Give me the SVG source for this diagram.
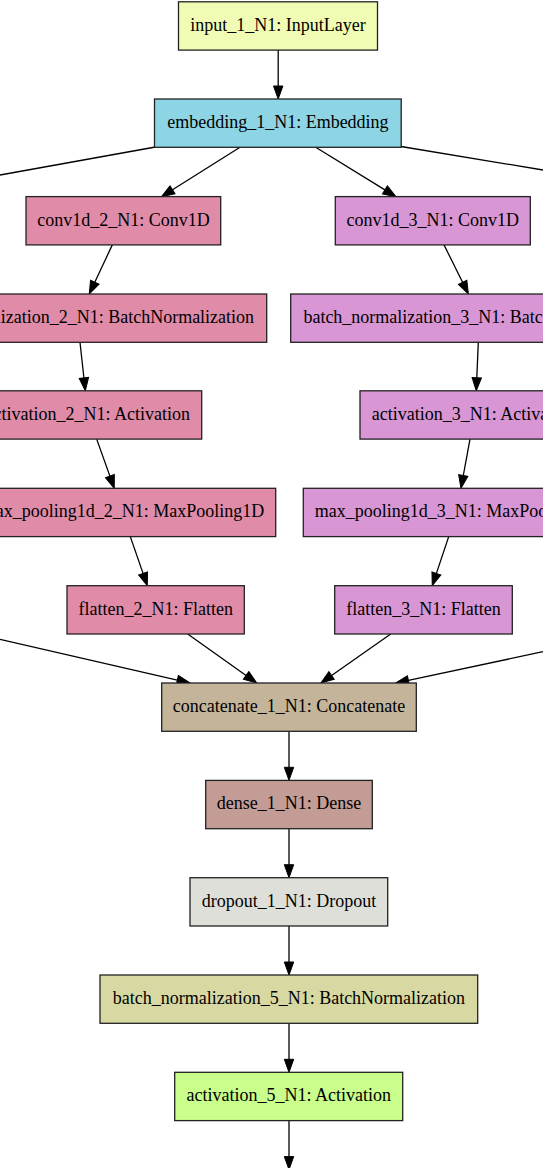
<svg xmlns="http://www.w3.org/2000/svg" width="543" height="1168" viewBox="0 0 543 1168">
<style>
.n rect{stroke:#222;stroke-width:1.3}
.n text{font-family:"Liberation Serif","Times New Roman",serif;font-size:18px;fill:#000;text-anchor:middle}
#edges line{stroke:#000;stroke-width:1.3;fill:none}
.pk{fill:#e08ca9}.pu{fill:#d896d4}
</style>
<defs>
<marker id="ah" markerUnits="userSpaceOnUse" markerWidth="14" markerHeight="12" refX="0" refY="0" viewBox="0 -6 14 12" orient="auto" overflow="visible">
<path d="M0,-4.7 L13,0 L0,4.7 z" fill="#000" stroke="#000" stroke-width="1"/>
</marker>
</defs>
<rect width="543" height="1168" fill="#fff"/>
<g id="edges">
<line x1="278.2" y1="50" x2="278.2" y2="86"/>
<line x1="155.5" y1="147" x2="0" y2="175"/>
<line x1="240" y1="147.3" x2="172.5" y2="189.8" marker-end="url(#ah)"/>
<line x1="315.7" y1="147.3" x2="384.9" y2="189.9" marker-end="url(#ah)"/>
<line x1="401" y1="146.5" x2="543" y2="170"/>
<line x1="112.3" y1="244.9" x2="94.8" y2="282.2" marker-end="url(#ah)"/>
<line x1="444" y1="244.9" x2="462.6" y2="282.3" marker-end="url(#ah)"/>
<line x1="80" y1="342.3" x2="83.9" y2="377.8" marker-end="url(#ah)"/>
<line x1="478.3" y1="342.3" x2="476.8" y2="377.7" marker-end="url(#ah)"/>
<line x1="96.7" y1="439.1" x2="109.9" y2="476.1" marker-end="url(#ah)"/>
<line x1="470" y1="439.1" x2="463.3" y2="475.5" marker-end="url(#ah)"/>
<line x1="130.3" y1="536.6" x2="143.05" y2="573.4" marker-end="url(#ah)"/>
<line x1="448.7" y1="536.6" x2="436.4" y2="573.4" marker-end="url(#ah)"/>
<line x1="187.7" y1="634" x2="246.1" y2="675.45" marker-end="url(#ah)"/>
<line x1="390.7" y1="634" x2="331.6" y2="675.5" marker-end="url(#ah)"/>
<line x1="0" y1="639.3" x2="177.3" y2="680.1" marker-end="url(#ah)"/>
<line x1="543" y1="651.7" x2="408.4" y2="680.3" marker-end="url(#ah)"/>
<line x1="289" y1="731.3" x2="289" y2="767.3" marker-end="url(#ah)"/>
<line x1="289" y1="828.7" x2="289" y2="864.7" marker-end="url(#ah)"/>
<line x1="289" y1="926" x2="289" y2="962" marker-end="url(#ah)"/>
<line x1="289" y1="1023.3" x2="289" y2="1059.3" marker-end="url(#ah)"/>
<line x1="289" y1="1120.6" x2="289" y2="1156.6" marker-end="url(#ah)"/>
<path d="M273.5,86 L278.2,99 L282.9,86 z" fill="#000" stroke="#000" stroke-width="1"/>
</g>
<g id="input_1" class="n"><rect x="178.5" y="1.8" width="199" height="48.3" fill="#f0fcb4"/><text x="278" y="30.8">input_1_N1: InputLayer</text></g>
<g id="embedding_1" class="n"><rect x="154.5" y="99" width="246.7" height="48.3" fill="#8dd4e4"/><text x="277.9" y="128">embedding_1_N1: Embedding</text></g>
<g id="conv1d_2" class="n"><rect x="26" y="196.6" width="194.7" height="48.3" class="pk"/><text x="123.4" y="225.6">conv1d_2_N1: Conv1D</text></g>
<g id="conv1d_3" class="n"><rect x="335.3" y="196.6" width="195" height="48.3" class="pu"/><text x="432.8" y="225.6">conv1d_3_N1: Conv1D</text></g>
<g id="batch_normalization_2" class="n"><rect x="-111" y="294" width="377.7" height="48.3" class="pk"/><text x="77.9" y="323">batch_normalization_2_N1: BatchNormalization</text></g>
<g id="batch_normalization_3" class="n"><rect x="290.7" y="294" width="377.7" height="48.3" class="pu"/><text x="479.6" y="323">batch_normalization_3_N1: BatchNormalization</text></g>
<g id="activation_2" class="n"><rect x="-26.3" y="390.8" width="228" height="48.3" class="pk"/><text x="87.7" y="419.8">activation_2_N1: Activation</text></g>
<g id="activation_3" class="n"><rect x="360" y="390.8" width="228" height="48.3" class="pu"/><text x="474" y="419.8">activation_3_N1: Activation</text></g>
<g id="max_pooling1d_2" class="n"><rect x="-29.5" y="488.3" width="305.2" height="48.3" class="pk"/><text x="123.1" y="517.3">max_pooling1d_2_N1: MaxPooling1D</text></g>
<g id="max_pooling1d_3" class="n"><rect x="303.3" y="488.3" width="305.2" height="48.3" class="pu"/><text x="455.9" y="517.3">max_pooling1d_3_N1: MaxPooling1D</text></g>
<g id="flatten_2" class="n"><rect x="67" y="585.7" width="177.3" height="48.3" class="pk"/><text x="155.7" y="614.7">flatten_2_N1: Flatten</text></g>
<g id="flatten_3" class="n"><rect x="334.7" y="585.7" width="177.6" height="48.3" class="pu"/><text x="423.5" y="614.7">flatten_3_N1: Flatten</text></g>
<g id="concatenate_1" class="n"><rect x="161.7" y="683" width="254.6" height="48.3" fill="#c4b59a"/><text x="289" y="712">concatenate_1_N1: Concatenate</text></g>
<g id="dense_1" class="n"><rect x="205.7" y="780.4" width="166.6" height="48.3" fill="#c49c96"/><text x="289" y="809.4">dense_1_N1: Dense</text></g>
<g id="dropout_1" class="n"><rect x="190" y="877.7" width="197.7" height="48.3" fill="#dedfd8"/><text x="288.9" y="906.7">dropout_1_N1: Dropout</text></g>
<g id="batch_normalization_5" class="n"><rect x="100" y="975" width="377.7" height="48.3" fill="#d8d9a2"/><text x="288.9" y="1004">batch_normalization_5_N1: BatchNormalization</text></g>
<g id="activation_5" class="n"><rect x="174.7" y="1072.3" width="228" height="48.3" fill="#c9fd8c"/><text x="288.7" y="1101.3">activation_5_N1: Activation</text></g>
</svg>
